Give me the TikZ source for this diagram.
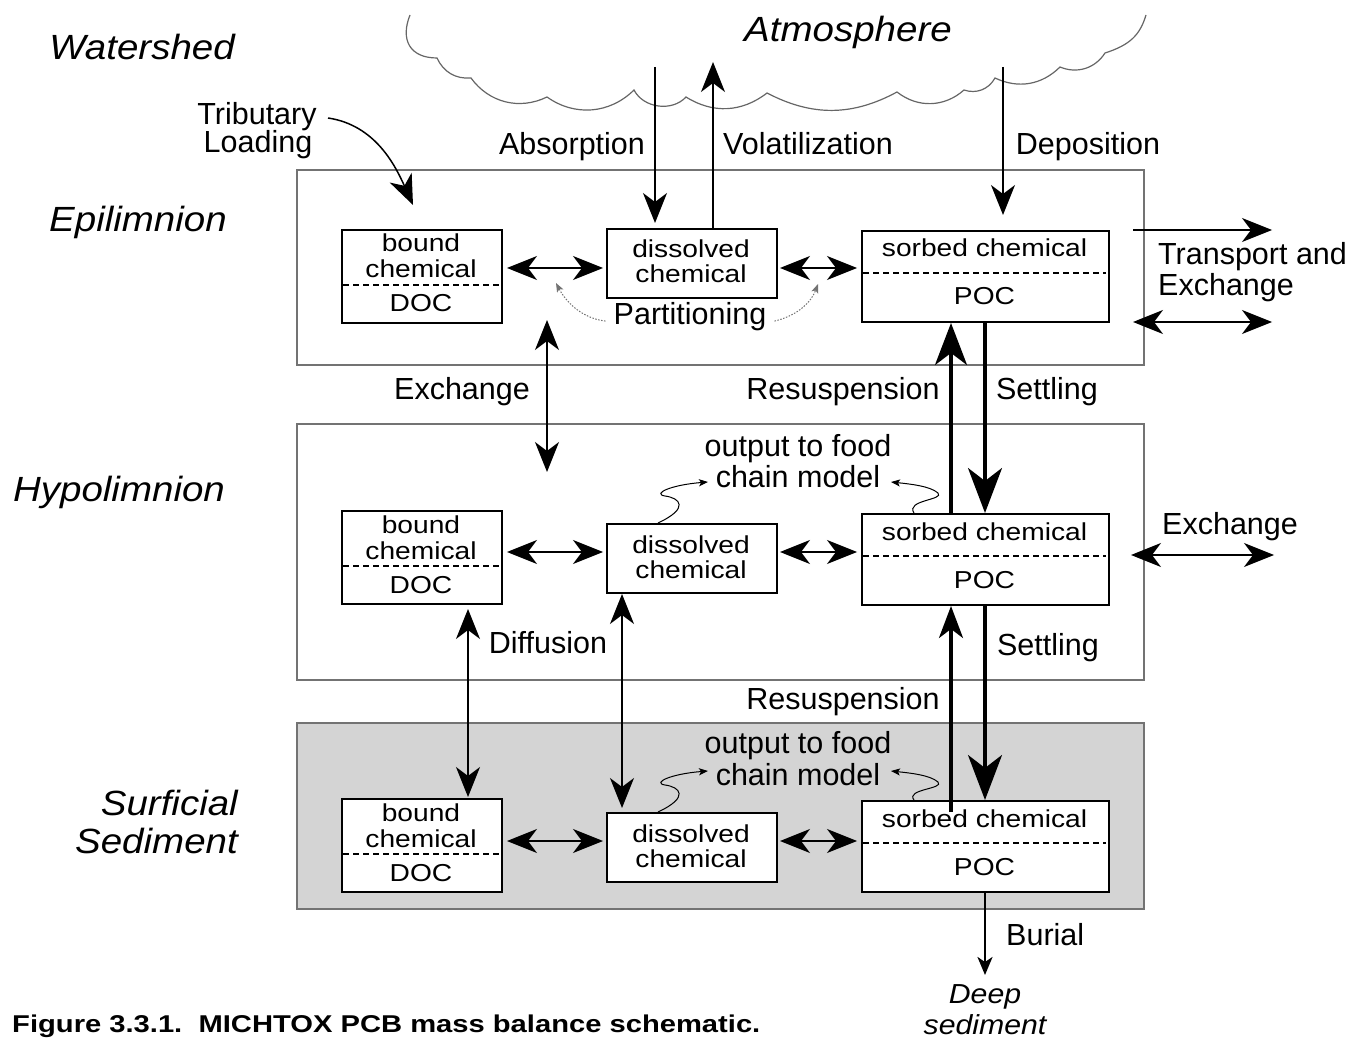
\documentclass[tikz,border=0pt]{standalone}
\usepackage{fontspec}
\setmainfont{Liberation Sans}
\newfontfamily\boxfont{Liberation Sans}[FakeStretch=1.15]
\newfontfamily\bigfont{Liberation Sans}[FakeStretch=1.1]
\newfontfamily\capfont{Liberation Sans}[FakeStretch=1.2]
\usetikzlibrary{arrows.meta,calc}
\begin{document}
\begin{tikzpicture}[x=1pt,y=-1pt,
  box/.style={draw=black, line width=2pt, fill=white, inner sep=0pt, anchor=north west},
  outerbox/.style={draw=black!55, line width=1.1pt},
  btxt/.style={font=\boxfont\fontsize{24.5}{25}\selectfont, inner sep=0pt, anchor=base},
  lbl/.style={font=\fontsize{30.5}{31}\selectfont, inner sep=0pt, anchor=base},
  bigit/.style={font=\bigfont\itshape\fontsize{35}{38}\selectfont, inner sep=0pt, anchor=base},
  smallit/.style={font=\bigfont\itshape\fontsize{27.5}{30}\selectfont, inner sep=0pt, anchor=base},
  divider/.style={dash pattern=on 6pt off 4pt, line width=1.5pt},
  thinln/.style={line width=1.3pt},
  dbl/.style={thinln, arrows={Stealth[length=30pt,width=24pt,inset=9pt]-Stealth[length=30pt,width=24pt,inset=9pt]}},
  sgl/.style={thinln, arrows={-Stealth[length=30pt,width=24pt,inset=9pt]}},
  settle/.style={line width=3.2pt, arrows={-Stealth[length=45pt,width=34pt,inset=13pt]}},
  resup/.style={line width=3.2pt, arrows={-Stealth[length=42pt,width=32pt,inset=12pt]}},
  resdown/.style={line width=3.2pt, arrows={-Stealth[length=32pt,width=24pt,inset=9pt]}},
  burial/.style={line width=2.5pt, arrows={-Stealth[length=18pt,width=15pt,inset=5pt]}},
  squig/.style={line width=1pt, arrows={-Stealth[length=9pt,width=7pt,inset=2pt]}},
  partarr/.style={line width=1pt, draw=black!55, dash pattern=on 1.5pt off 1.5pt, arrows={-Stealth[length=9pt,width=7pt,inset=2pt]}},
  cloudln/.style={draw=black!60, line width=1.2pt}
]
\useasboundingbox (0,0) rectangle (1353,1040);

% compartments
\draw[outerbox] (297,170) rectangle (1144,365);
\draw[outerbox] (297,424) rectangle (1144,680);
\draw[outerbox, fill={rgb,255:red,212;green,212;blue,212}] (297,723) rectangle (1144,909);

% cloud
\draw[cloudln] (410,15) .. controls (400,40) and (410,58) .. (437,58)
  to[bend right=35] (471,78) to[bend right=40] (547,97) to[bend right=40] (634,90)
  to[bend right=55] (686,97) to[bend right=35] (767,93) to[bend right=28] (897,92)
  to[bend right=40] (964,90) to[bend right=40] (995,78) to[bend right=35] (1060,67)
  to[bend right=40] (1105,53) .. controls (1130,45) and (1140,35) .. (1146,15);

% labels
\node[bigit] (watershed) at (142,60) {Watershed};
\node[bigit] (atmos) at (848,42) {Atmosphere};
\node[bigit] (epi) at (138,232) {Epilimnion};
\node[bigit] (hypo) at (119,502) {Hypolimnion};
\node[bigit, anchor=base east] (surf1) at (238,815) {Surficial};
\node[bigit, anchor=base east] (surf2) at (238,853) {Sediment};
\node[lbl] (trib1) at (257,125) {Tributary};
\node[lbl] (trib2) at (258,153) {Loading};
\node[lbl] (absorp) at (572,155) {Absorption};
\node[lbl] (volat) at (808,155) {Volatilization};
\node[lbl] (depos) at (1088,155) {Deposition};
\node[lbl] (part) at (690,325) {Partitioning};
\node[lbl, anchor=base west] (trans1) at (1158,265) {Transport and};
\node[lbl, anchor=base west] (trans2) at (1158,296) {Exchange};
\node[lbl] (exch1) at (462,400) {Exchange};
\node[lbl] (resus1) at (843,400) {Resuspension};
\node[lbl] (settl1) at (1047,400) {Settling};
\node[lbl] (food1a) at (798,457) {output to food};
\node[lbl] (food1b) at (798,488) {chain model};
\node[lbl, anchor=base west] (exch2) at (1162,535) {Exchange};
\node[lbl] (diff) at (548,653) {Diffusion};
\node[lbl] (settl2) at (1048,655) {Settling};
\node[lbl] (resus2) at (843,709) {Resuspension};
\node[lbl] (food2a) at (798,753) {output to food};
\node[lbl] (food2b) at (798,785) {chain model};
\node[lbl, anchor=base west] (burial) at (1006,945) {Burial};
\node[smallit] (deep1) at (985,1003) {Deep};
\node[smallit] (deep2) at (985,1034) {sediment};
\node[font=\capfont\bfseries\fontsize{24.3}{26}\selectfont, anchor=base west, inner sep=0pt] (caption) at (12,1032) {Figure 3.3.1.\ \ MICHTOX PCB mass balance schematic.};

% boxes for the three layers
\foreach \n/\tb/\td/\ts/\ay in {e/229/228/230/268, h/510/523/513/552, s/798/812/800/841} {
  \node[box, minimum width=160pt, minimum height=93pt] (\n-b) at (341,\tb) {};
  \node[btxt] (\n-b1) at (421,\tb+23) {bound};
  \node[btxt] (\n-b2) at (421,\tb+49) {chemical};
  \node[btxt] (\n-b3) at (421,\tb+83) {DOC};
  \draw[divider] (343,\tb+56) -- (499,\tb+56);
  \node[box, minimum width=170pt, minimum height=69pt] (\n-d) at (606,\td) {};
  \node[btxt] (\n-d1) at (691,\td+30) {dissolved};
  \node[btxt] (\n-d2) at (691,\td+55) {chemical};
  \node[box, minimum width=247pt, minimum height=91pt] (\n-s) at (861,\ts) {};
  \node[btxt] (\n-s1) at (984.5,\ts+27) {sorbed chemical};
  \node[btxt] (\n-s2) at (984.5,\ts+75) {POC};
  \draw[divider] (863,\ts+43) -- (1106,\ts+43);
  \draw[dbl, shorten <=4pt, shorten >=3pt] (\n-b.east |- 0,\ay) -- (\n-d.west |- 0,\ay);
  \draw[dbl, shorten <=2pt, shorten >=4pt] (\n-d.east |- 0,\ay) -- (\n-s.west |- 0,\ay);
}

% atmosphere exchanges
\coordinate (absTop) at (655,67);
\coordinate (volTop) at (713,62);
\coordinate (depTop) at (1003,67);
\draw[sgl, shorten >=5pt] (absTop) -- (e-d.north -| 655,0);
\draw[sgl] (e-d.north -| 713,0) -- (volTop);
\draw[sgl, shorten >=15pt] (depTop) -- (e-s.north -| 1003,0);

% tributary loading
\coordinate (tribStart) at (328,118);
\coordinate (tribEnd) at (413,205);
\draw[sgl, line width=1.5pt] (tribStart) .. controls (375,125) and (395,165) .. (tribEnd);

% partitioning
\draw[partarr] ($(part.west)+(-8,4)$) .. controls (580,318) and (565,300) .. (556,283);
\draw[partarr] ($(part.east)+(8,4)$) .. controls (800,315) and (812,300) .. (818,284);

% transport and exchange (right side)
\coordinate (tr1) at (1133,230); \coordinate (tr2) at (1272,230);
\coordinate (tx1) at (1133,322); \coordinate (tx2) at (1272,322);
\coordinate (hx1) at (1131,555); \coordinate (hx2) at (1274,555);
\draw[sgl] (tr1) -- (tr2);
\draw[dbl] (tx1) -- (tx2);
\draw[dbl] (hx1) -- (hx2);

% epi-hypo exchange
\coordinate (exA) at (547,320); \coordinate (exB) at (547,472);
\draw[dbl] (exA) -- (exB);

% settling and resuspension
\draw[resup] (h-s.north -| 951,0) -- (e-s.south -| 951,0);
\draw[settle] (e-s.south -| 985,0) -- (h-s.north -| 985,0);
\draw[resdown] ($(s-s.north -| 951,0)+(0,12)$) -- (h-s.south -| 951,0);
\draw[settle] (h-s.south -| 985,0) -- (s-s.north -| 985,0);
\coordinate (deepTop) at (985,975);
\draw[burial] (s-s.south -| 985,0) -- (deepTop);

% diffusion
\draw[dbl, shorten <=4pt, shorten >=1pt] (h-b.south -| 468,0) -- (s-b.north -| 468,0);
\draw[dbl, shorten >=4pt] (h-d.south -| 622,0) -- (s-d.north -| 622,0);

% output to food chain model
\foreach \n/\off in {h/0, s/289} {
  \draw[squig] (\n-d.north -| 658,0) .. controls (690,508+\off) and (680,498+\off) .. (665,496+\off)
     .. controls (652,494+\off) and (670,485+\off) .. (708,482+\off);
  \draw[squig] (\n-s.north -| 914,0) .. controls (905,500+\off) and (945,500+\off) .. (938,493+\off)
     .. controls (930,486+\off) and (910,484+\off) .. (891,482+\off);
}
\end{tikzpicture}
\end{document}
